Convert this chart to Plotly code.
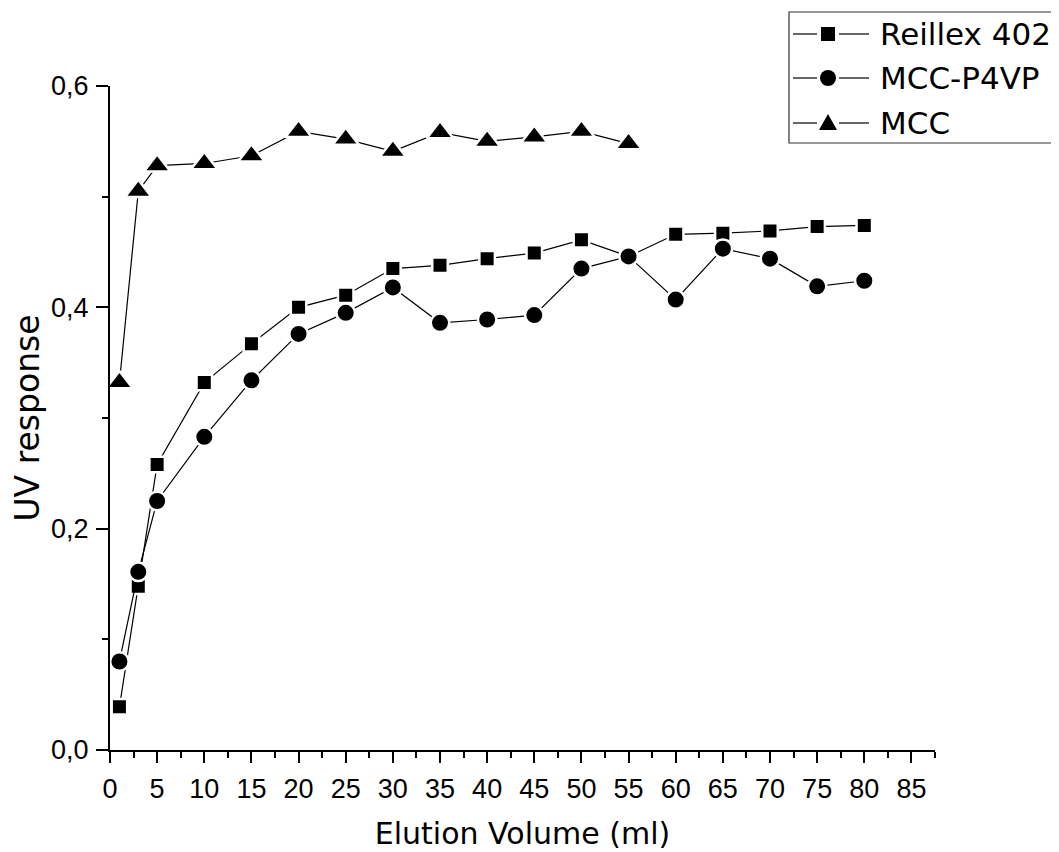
import plotly.graph_objects as go

# ---- data ----
x_reillex = [1, 3, 5, 10, 15, 20, 25, 30, 35, 40, 45, 50, 55, 60, 65, 70, 75, 80]
y_reillex = [0.039, 0.148, 0.258, 0.332, 0.367, 0.400, 0.411, 0.435, 0.438, 0.444,
             0.449, 0.461, 0.446, 0.466, 0.467, 0.469, 0.473, 0.474]

x_p4vp = [1, 3, 5, 10, 15, 20, 25, 30, 35, 40, 45, 50, 55, 60, 65, 70, 75, 80]
y_p4vp = [0.080, 0.161, 0.225, 0.283, 0.334, 0.376, 0.395, 0.418, 0.386, 0.389,
          0.393, 0.435, 0.446, 0.407, 0.453, 0.444, 0.419, 0.424]

x_mcc = [1, 3, 5, 10, 15, 20, 25, 30, 35, 40, 45, 50, 55]
y_mcc = [0.332, 0.505, 0.528, 0.530, 0.537, 0.559, 0.552, 0.541, 0.558, 0.550,
         0.554, 0.559, 0.548]

series_names = ["Reillex 402", "MCC-P4VP", "MCC"]

TICK_FONT = "Liberation Sans, Arial, sans-serif"
TEXT_FONT = "DejaVu Sans, Verdana, sans-serif"

fig = go.Figure()

def add(xs, ys, name, symbol, size):
    fig.add_trace(go.Scatter(
        x=xs, y=ys, name=name, mode="lines+markers",
        line=dict(color="black", width=1.2),
        marker=dict(symbol=symbol, size=size, color="black",
                    line=dict(color="white", width=2.5)),
        showlegend=False, cliponaxis=False,
    ))

add(x_reillex, y_reillex, series_names[0], "square", 15.5)
add(x_p4vp, y_p4vp, series_names[1], "circle", 18.5)
add(x_mcc, y_mcc, series_names[2], "triangle-up", 23)

# ---- layout geometry (page has an 8px body margin) ----
OFF = 8
W, H = 1059 - OFF, 852 - OFF
L, R, T, B = 110 - OFF, 124, 86 - OFF, 102
PW, PH = W - L - R, H - T - B

def px(xp):
    return (xp - OFF - L) / PW

def py(yp):
    return (H - B - (yp - OFF)) / PH

shapes = []
annotations = []

# legend box
shapes.append(dict(type="rect", xref="paper", yref="paper",
                   x0=px(789), x1=px(1058), y0=py(143), y1=py(12),
                   line=dict(color="#333333", width=1.2), fillcolor="white"))

rows = [34, 78, 123]
mx = 828
for i, name in enumerate(series_names):
    yy = py(rows[i])
    shapes.append(dict(type="line", xref="paper", yref="paper",
                       x0=px(793), x1=px(817), y0=yy, y1=yy,
                       line=dict(color="black", width=1.2)))
    shapes.append(dict(type="line", xref="paper", yref="paper",
                       x0=px(839), x1=px(869), y0=yy, y1=yy,
                       line=dict(color="black", width=1.2)))
    if i == 0:
        shapes.append(dict(type="rect", xref="paper", yref="paper",
                           xsizemode="pixel", ysizemode="pixel",
                           xanchor=px(mx), yanchor=yy,
                           x0=-7, x1=7, y0=-7, y1=7,
                           fillcolor="black", line=dict(width=0)))
    elif i == 1:
        shapes.append(dict(type="circle", xref="paper", yref="paper",
                           xsizemode="pixel", ysizemode="pixel",
                           xanchor=px(mx), yanchor=yy,
                           x0=-8, x1=8, y0=-8, y1=8,
                           fillcolor="black", line=dict(width=0)))
    else:
        shapes.append(dict(type="path", xref="paper", yref="paper",
                           xsizemode="pixel", ysizemode="pixel",
                           xanchor=px(mx), yanchor=yy,
                           path="M-9,-7 L9,-7 L0,9 Z",
                           fillcolor="black", line=dict(width=0)))
    annotations.append(dict(xref="paper", yref="paper", x=px(878), y=yy,
                            xanchor="left", yanchor="middle", showarrow=False,
                            text=name, font=dict(family=TEXT_FONT, size=31, color="black")))

fig.update_layout(
    width=W, height=H,
    margin=dict(l=L, r=R, t=T, b=B, autoexpand=False),
    paper_bgcolor="white", plot_bgcolor="white",
    separators=",.",
    showlegend=False,
    font=dict(family=TICK_FONT, color="black"),
    shapes=shapes,
    annotations=annotations,
    xaxis=dict(
        range=[0, 87.5], tick0=0, dtick=5, showgrid=False, zeroline=False,
        showline=True, linecolor="black", linewidth=2,
        ticks="outside", ticklen=11, tickwidth=2, tickcolor="black",
        minor=dict(dtick=2.5, ticks="outside", ticklen=6, tickwidth=2,
                   tickcolor="black", showgrid=False),
        tickfont=dict(family=TICK_FONT, size=27, color="black"),
        ticklabelstandoff=3,
        title=dict(text="Elution Volume (ml)", font=dict(family=TEXT_FONT, size=30),
                   standoff=20),
    ),
    yaxis=dict(
        range=[0, 0.6], tick0=0, dtick=0.2, tickformat=".1f",
        showgrid=False, zeroline=False,
        showline=True, linecolor="black", linewidth=2,
        ticks="outside", ticklen=12, tickwidth=2, tickcolor="black",
        minor=dict(dtick=0.1, ticks="outside", ticklen=6, tickwidth=2,
                   tickcolor="black", showgrid=False),
        tickfont=dict(family=TICK_FONT, size=27, color="black"),
        ticklabelstandoff=2,
        title=dict(text="UV response", font=dict(family=TEXT_FONT, size=33),
                   standoff=10),
    ),
)

fig.write_html("out.html")
